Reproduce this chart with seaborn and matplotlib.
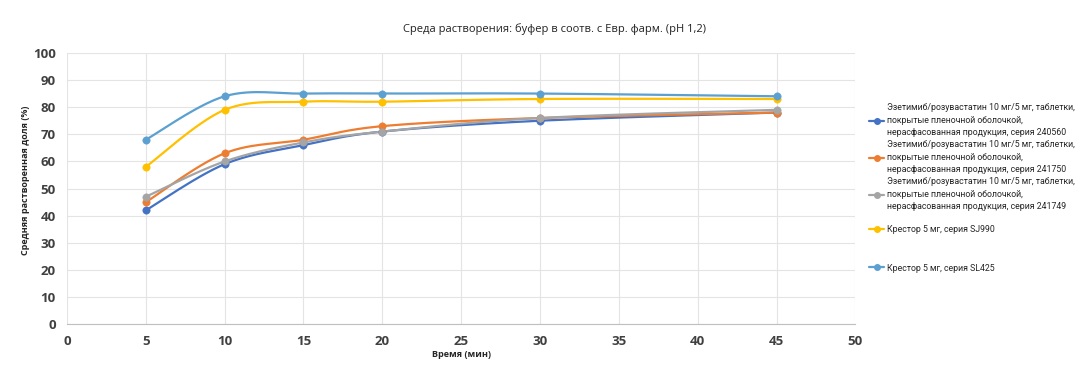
import numpy as np
import pandas as pd
import matplotlib
matplotlib.use("Agg")
import matplotlib.pyplot as plt
import seaborn as sns

# time points (min)
time_min = [5, 10, 15, 20, 30, 45]

series_names = [
    "Эзетимиб/розувастатин 10 мг/5 мг, таблетки,\nпокрытые пленочной оболочкой,\nнерасфасованная продукция, серия 240560",
    "Эзетимиб/розувастатин 10 мг/5 мг, таблетки,\nпокрытые пленочной оболочкой,\nнерасфасованная продукция, серия 241750",
    "Эзетимиб/розувастатин 10 мг/5 мг, таблетки,\nпокрытые пленочной оболочкой,\nнерасфасованная продукция, серия 241749",
    "Крестор 5 мг, серия SJ990",
    "Крестор 5 мг, серия SL425",
]
s_240560 = [42, 59, 66, 71, 75, 78]
s_241750 = [45, 63, 68, 73, 76, 78]
s_241749 = [47, 60, 67, 71, 76, 79]
s_sj990 = [58, 79, 82, 82, 83, 83]
s_sl425 = [68, 84, 85, 85, 85, 84]

colors = ["#4472C4", "#ED7D31", "#A5A5A5", "#FFC000", "#5BA0D0"]

sns.set_style("white")
plt.rcParams["font.family"] = ["Open Sans", "DejaVu Sans"]

df = pd.DataFrame({"t": time_min * 5,
                   "v": s_240560 + s_241750 + s_241749 + s_sj990 + s_sl425,
                   "s": sum([[n] * len(time_min) for n in series_names], [])})


def smooth(x, y, n=30):
    # excel-like smoothed line (bezier through the points)
    x = np.asarray(x, float)
    y = np.asarray(y, float)
    px, py = [], []
    for i in range(len(x) - 1):
        x0, y0 = (x[i - 1], y[i - 1]) if i > 0 else (x[i], y[i])
        x3, y3 = (x[i + 2], y[i + 2]) if i + 2 < len(x) else (x[i + 1], y[i + 1])
        c1x = x[i] + (x[i + 1] - x0) / 6
        c1y = y[i] + (y[i + 1] - y0) / 6
        c2x = x[i + 1] - (x3 - x[i]) / 6
        c2y = y[i + 1] - (y3 - y[i]) / 6
        t = np.linspace(0, 1, n)
        px += list((1-t)**3*x[i] + 3*(1-t)**2*t*c1x + 3*(1-t)*t**2*c2x + t**3*x[i+1])
        py += list((1-t)**3*y[i] + 3*(1-t)**2*t*c1y + 3*(1-t)*t**2*c2y + t**3*y[i+1])
    return px, py


fig = plt.figure(figsize=(10.8, 3.72), dpi=100)
ax = fig.add_axes([0.062, 0.128, 0.730, 0.73])

for name, c in zip(series_names, colors):
    d = df[df.s == name]
    sx, sy = smooth(d.t, d.v)
    sns.lineplot(x=sx, y=sy, ax=ax, color=c, lw=1.6, sort=False)
    sns.scatterplot(x=d.t, y=d.v, ax=ax, color=c, s=28, edgecolor=c, zorder=3)

ax.set_xlim(0, 50)
ax.set_ylim(0, 100)
ax.set_xticks(range(0, 51, 5))
ax.set_yticks(range(0, 101, 10))
ax.grid(True, color="#E4E4E4", lw=0.8)
for sp in ["top", "right", "left"]:
    ax.spines[sp].set_visible(False)
ax.spines["bottom"].set_color("#BFBFBF")
ax.tick_params(length=0, labelsize=9.5, labelcolor="#404040", pad=8)
for lab in ax.get_xticklabels() + ax.get_yticklabels():
    lab.set_fontweight("bold")
ax.set_xlabel("Время (мин)", fontsize=6.5, fontweight="bold")
ax.set_ylabel("Средняя растворенная доля (%)", fontsize=6.5, fontweight="bold")
ax.xaxis.set_label_coords(0.5, -0.095)
ax.yaxis.set_label_coords(-0.047, 0.53)

fig.text(0.513, 0.915, "Среда растворения: буфер в соотв. с Евр. фарм. (pH 1,2)",
         ha="center", fontsize=8, color="#222222")

handles = [plt.Line2D([0], [0], color=c, lw=1.6, marker="o", markersize=4) for c in colors]
leg_font = {"family": ["Roboto", "DejaVu Sans"], "size": 6.3}
leg1 = fig.legend(handles[:3], series_names[:3], loc="upper left", bbox_to_anchor=(0.797, 0.744),
                  frameon=False, prop=leg_font, handlelength=1.8, handletextpad=0.3,
                  labelspacing=0.35)
for t in leg1.get_texts():
    t.set_linespacing(1.5)
fig.legend(handles[3:], series_names[3:], loc="upper left", bbox_to_anchor=(0.797, 0.417),
           frameon=False, prop=leg_font, handlelength=1.8, handletextpad=0.3,
           labelspacing=3.4)

fig.savefig("out.png", dpi=100)
